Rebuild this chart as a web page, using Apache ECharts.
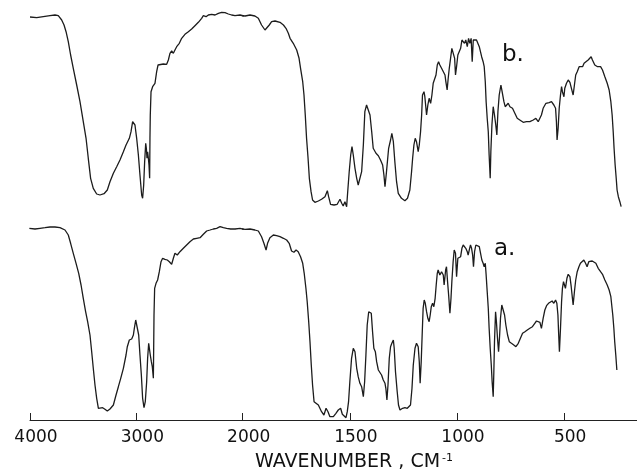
<!DOCTYPE html>
<html><head><meta charset="utf-8">
<script src="https://cdn.jsdelivr.net/npm/echarts@6/dist/echarts.min.js"></script>
<style>html,body{margin:0;padding:0;background:#fff}#c{width:637px;height:474px}</style>
</head><body><div id="c"></div>
<script>
// Spectrum b (upper trace): [wavenumber cm-1, relative transmittance units]
const traceB = [[4000,403],[3937,402.3],[3875,403.3],[3812,404.3],[3765,405],[3734,404.3],[3702,400],[3680,395],[3661,388.3],[3640,378.3],[3618,365],[3593,351.7],[3561,335],[3530,318.3],[3499,298.3],[3473,281.7],[3452,261.7],[3430,241.7],[3405,231.7],[3373,226],[3342,225],[3304,226.3],[3273,230],[3248,238.3],[3216,246.7],[3185,253.3],[3154,260],[3122,268.3],[3097,275],[3066,281.7],[3050,288.3],[3035,298.3],[3025,300],[3013,295],[2997,281.7],[2981,265],[2966,245],[2950,225],[2941,221.7],[2931,235],[2922,258.3],[2912,276.7],[2906,271.7],[2900,261.7],[2894,268.3],[2887,261.7],[2881,255],[2875,241.7],[2872,281.7],[2869,305],[2862,328.3],[2847,333.3],[2825,336.7],[2809,348.3],[2796,355],[2778,356.7],[2746,356],[2715,355.7],[2699,360],[2684,366.7],[2668,369],[2652,366.7],[2637,370],[2621,373.3],[2596,376.7],[2574,381.7],[2543,385.7],[2511,388.3],[2480,391],[2449,394.3],[2417,397.7],[2386,401.7],[2370,404.3],[2345,403.3],[2323,405],[2292,405.7],[2260,405],[2229,406.7],[2198,407.7],[2166,407.3],[2135,406],[2104,405],[2072,404.3],[2025,405],[1989,404],[1966,405],[1943,404],[1927,401.7],[1912,395],[1896,390],[1888,389],[1876,395],[1865,398.3],[1849,399],[1826,397.7],[1810,395],[1798,391.7],[1787,386.7],[1779,381.7],[1764,376.7],[1748,370],[1737,361.7],[1730,351.7],[1720,338.3],[1714,325],[1708,305],[1702,281.7],[1695,261.7],[1689,241.7],[1681,228.3],[1674,220],[1663,217.7],[1647,219],[1632,220.7],[1616,223.3],[1605,229.3],[1599,223.3],[1590,215.7],[1574,215],[1559,215.7],[1546,220.7],[1538,216.7],[1531,214],[1523,218.3],[1515,213.3],[1510,228.3],[1503,248.3],[1496,265],[1490,273.3],[1484,265],[1476,251.7],[1468,241.7],[1461,235],[1453,236.7],[1445,248.3],[1437,275],[1430,308.3],[1422,315],[1414,313.3],[1406,305],[1398,288.3],[1391,271.7],[1378,266.7],[1367,264.3],[1357,260],[1347,255],[1341,245],[1336,233.3],[1329,248.3],[1319,271.7],[1310,280],[1304,286.7],[1297,278.3],[1290,258.3],[1282,238.3],[1274,226.7],[1259,221.7],[1243,219.3],[1231,221.7],[1220,230],[1212,248.3],[1207,261.7],[1201,275],[1195,281.7],[1189,278.3],[1181,268.3],[1176,275],[1170,288.3],[1165,305],[1161,325],[1154,328.3],[1150,323.3],[1142,305],[1136,315],[1130,321.7],[1123,316.7],[1117,325],[1111,336.7],[1105,338.3],[1098,345],[1092,355],[1086,358.3],[1080,355],[1072,351.7],[1056,345],[1052,338.3],[1046,330],[1041,341.7],[1036,351.7],[1030,361.7],[1024,371.7],[1018,373.3],[1011,361.7],[1007,345],[1002,353.3],[996,365],[990,366.7],[983,371.7],[977,380],[971,381.7],[965,376.7],[959,380],[952,373.3],[946,381.7],[940,376.7],[934,381.7],[929,358.3],[924,380],[917,381.7],[909,380],[896,373.3],[885,363.3],[878,358.3],[873,353.3],[868,338.3],[864,318.3],[859,301.7],[854,288.3],[850,265],[845,241.7],[842,268.3],[837,295],[831,313.3],[825,305],[819,295],[814,285],[809,308.3],[803,325],[795,335],[788,326.7],[781,318.3],[775,313.3],[769,315],[761,316.7],[753,313.3],[741,311.7],[730,306.7],[719,301.7],[707,300],[691,297.7],[676,298.3],[660,298.3],[644,300],[632,301.7],[621,298.3],[613,300],[606,305],[598,311.7],[585,316.7],[570,317.3],[559,318.3],[548,315],[540,311.7],[536,298.3],[533,280],[528,291.7],[523,311.7],[517,325],[512,333.3],[508,328.3],[501,323.3],[497,331.7],[489,336.7],[481,340],[473,337.7],[466,331.7],[458,325],[452,335],[446,345],[439,348.3],[430,353.3],[422,355],[414,353.3],[407,356.7],[399,357.7],[388,360],[380,361.7],[374,363.3],[368,360],[357,355],[344,353.3],[330,353.3],[321,350],[310,343.3],[299,336.7],[290,330],[282,318.3],[276,305],[271,288.3],[267,271.7],[262,255],[257,241.7],[253,230],[247,223.3],[240,218.3],[234,213.3]];

// Spectrum a (lower trace)
const traceA = [[4006,191.7],[3953,191],[3906,191.7],[3859,192.3],[3812,193],[3765,193],[3718,192.3],[3671,190],[3640,185],[3618,176.7],[3593,166.7],[3567,156.7],[3542,146.7],[3520,135],[3499,121.7],[3477,108.3],[3458,98.3],[3436,85],[3420,68.3],[3405,51.7],[3389,35],[3373,21.7],[3357,11.7],[3342,11],[3317,12.3],[3295,10.7],[3273,9],[3248,11],[3216,15],[3191,25],[3169,33.3],[3147,41.7],[3122,51.7],[3097,65],[3085,73.3],[3066,80],[3044,81],[3028,85],[3019,91.7],[3006,100],[2997,101.7],[2988,98.3],[2978,85],[2966,65],[2953,45],[2941,21.7],[2928,12.3],[2916,18.3],[2903,38.3],[2894,61.7],[2884,76.7],[2878,78.3],[2869,65],[2859,58.3],[2850,53.3],[2840,41.7],[2837,71.7],[2834,105],[2828,131.7],[2815,136.7],[2800,140],[2784,148.3],[2768,158.3],[2753,161.7],[2731,160.7],[2709,160],[2690,158.3],[2668,155.7],[2652,161.7],[2637,166.7],[2615,165],[2590,168.3],[2558,171.7],[2527,175],[2496,178.3],[2464,181],[2433,181.7],[2401,182.3],[2370,185.7],[2339,189],[2307,190],[2276,191],[2245,191.7],[2213,193.3],[2182,192.3],[2151,191.7],[2113,191],[2072,191],[2025,191.7],[1989,190.7],[1966,191],[1943,190],[1927,189],[1912,183.3],[1901,176.7],[1891,170],[1884,176.7],[1873,182.3],[1857,185],[1842,184.3],[1826,183.3],[1810,181.7],[1795,180],[1783,176.7],[1772,169],[1761,167.7],[1751,170],[1741,168.3],[1730,163.3],[1720,156.7],[1713,146.7],[1705,131.7],[1699,118.3],[1692,98.3],[1686,78.3],[1680,55],[1674,35],[1667,18.3],[1658,16.7],[1647,15],[1639,13.3],[1632,8.3],[1621,5],[1611,11.7],[1602,8.3],[1593,3.3],[1577,3.3],[1565,6.7],[1554,10],[1543,11.7],[1535,5.7],[1526,5],[1518,2.3],[1512,8.3],[1506,18.3],[1500,38.3],[1492,61.7],[1484,71.7],[1476,68.3],[1468,51.7],[1461,43.3],[1453,36.7],[1445,33.3],[1437,23.3],[1431,38.3],[1425,65],[1419,95],[1412,108.3],[1406,110],[1400,106.7],[1394,88.3],[1388,71.7],[1381,68.3],[1375,58.3],[1367,50],[1360,48.3],[1352,45],[1344,40],[1336,36.7],[1332,31.7],[1327,20],[1322,35],[1316,61.7],[1310,73.3],[1304,76.7],[1297,80],[1293,71.7],[1287,48.3],[1279,28.3],[1273,15],[1266,10],[1254,11.7],[1243,12.3],[1232,11.7],[1223,11],[1217,15],[1210,31.7],[1204,55],[1196,71.7],[1189,76.7],[1181,73.3],[1176,58.3],[1172,36.7],[1167,58.3],[1162,88.3],[1158,111.7],[1153,120],[1148,116.7],[1142,108.3],[1136,101.7],[1130,98.3],[1125,105],[1120,113.3],[1114,116.7],[1108,113.3],[1102,121.7],[1097,135],[1092,146.7],[1088,150],[1080,145],[1072,148.3],[1064,145],[1060,135],[1053,150],[1049,153.3],[1044,138.3],[1039,125],[1033,106.7],[1028,121.7],[1024,138.3],[1018,158.3],[1013,170],[1007,166.7],[1002,143.3],[996,161.7],[990,160],[983,163.3],[977,171.7],[971,175],[965,173.3],[959,171.7],[952,168.3],[948,165],[941,171.7],[937,175],[932,171.7],[927,165],[923,153.3],[918,168.3],[912,175],[904,175.7],[896,173.3],[890,166.7],[884,160],[878,156.7],[873,153.3],[868,156.7],[864,145],[859,128.3],[854,111.7],[850,91.7],[845,71.7],[840,55],[836,38.3],[831,23.3],[828,48.3],[825,78.3],[820,108.3],[816,98.3],[811,81.7],[806,68.3],[801,85],[797,101.7],[791,115],[784,113.3],[778,105],[772,95],[764,85],[756,78.3],[746,76.7],[735,75],[725,73.3],[714,76.7],[704,81.7],[694,86.7],[683,88.3],[672,90],[660,91.7],[648,93.3],[637,96.7],[629,99],[621,101],[613,97.7],[606,91.7],[598,101.7],[590,110],[582,114.3],[573,116.7],[564,117.7],[556,119],[548,116.7],[540,120],[534,116.7],[529,105],[526,88.3],[522,68.3],[517,91.7],[512,118.3],[508,131.7],[503,138.3],[498,136.7],[494,131.7],[487,141.7],[481,145.7],[473,143.3],[467,133.3],[463,125],[458,115],[452,128.3],[446,140],[439,148.3],[431,153.3],[424,156.7],[416,158.3],[408,160],[400,156.7],[393,153.3],[385,158.3],[377,160],[369,159],[362,160],[352,156.7],[341,151.7],[330,148.3],[321,145.7],[310,140],[299,135],[290,130],[282,123.3],[278,115],[273,105],[268,91.7],[264,78.3],[259,65],[254,50]];

const highTicks = [4000, 3000, 2000];
const lowTicks = [2000, 1500, 1000, 500];
const lowLabels = [1500, 1000, 500];
const axisTitle = 'WAVENUMBER , CM';
const axisTitleSup = '-1';
const traceLabels = ['b.', 'a.'];

const BREAK = 2000;
function highPart(tr) { // wavenumbers >= 2000, plus the first point past it (clipped by grid)
  const out = [];
  for (const p of tr) { out.push(p); if (p[0] < BREAK) break; }
  return out;
}
function lowPart(tr) {
  const i = tr.findIndex(p => p[0] < BREAK);
  return tr.slice(Math.max(0, i - 1));
}

const chart = echarts.init(document.getElementById('c'), null, {renderer: 'canvas'});
const FONT = 'DejaVu Sans';
const lineStyle = {color: '#1c1c1c', width: 1.3};
const axisCommon = {
  type: 'value', inverse: true,
  axisLine: {show: true, lineStyle: {color: '#222', width: 1}},
  splitLine: {show: false},
};
const tickCommon = {show: true, inside: true, length: 7, lineStyle: {color: '#222'}};
const labelCommon = {color: '#111', fontFamily: FONT, fontSize: 17, margin: 9, padding: [0, 0, 0, 12]};

chart.setOption({
  animation: false,
  backgroundColor: '#fff',
  grid: [
    {left: 30, right: 394.3, top: 10, bottom: 54},
    {left: 242.7, right: 0, top: 10, bottom: 54}
  ],
  xAxis: [
    Object.assign({}, axisCommon, {gridIndex: 0, min: 2000, max: 4000, interval: 1000,
      axisTick: tickCommon,
      axisLabel: Object.assign({}, labelCommon, {formatter: v => highTicks.includes(v) ? String(v) : ''})}),
    Object.assign({}, axisCommon, {gridIndex: 1, min: 160, max: 2000,
      axisTick: Object.assign({}, tickCommon, {customValues: lowTicks}),
      axisLabel: Object.assign({}, labelCommon, {customValues: lowLabels, formatter: v => String(v)})})
  ],
  yAxis: [
    {type: 'value', gridIndex: 0, min: 0, max: 410, show: false},
    {type: 'value', gridIndex: 1, min: 0, max: 410, show: false}
  ],
  series: [
    {type: 'line', xAxisIndex: 0, yAxisIndex: 0, data: highPart(traceB), showSymbol: false, symbol: 'none', lineStyle, clip: true},
    {type: 'line', xAxisIndex: 1, yAxisIndex: 1, data: lowPart(traceB), showSymbol: false, symbol: 'none', lineStyle, clip: true},
    {type: 'line', xAxisIndex: 0, yAxisIndex: 0, data: highPart(traceA), showSymbol: false, symbol: 'none', lineStyle, clip: true},
    {type: 'line', xAxisIndex: 1, yAxisIndex: 1, data: lowPart(traceA), showSymbol: false, symbol: 'none', lineStyle, clip: true}
  ],
  title: {
    text: '{a|' + axisTitle + '}{s|' + axisTitleSup + '}',
    left: 255, top: 453, padding: 0,
    textStyle: {fontWeight: 'normal', rich: {
      a: {fontFamily: FONT, fontSize: 19, fontWeight: 'normal', color: '#111'},
      s: {fontFamily: FONT, fontSize: 11, fontWeight: 'normal', color: '#111', verticalAlign: 'top', padding: [0, 0, 8, 2]}
    }}
  },
  graphic: [
    {type: 'text', left: 502, top: 44, style: {text: traceLabels[0], font: '23px "DejaVu Sans"', fill: '#111'}},
    {type: 'text', left: 494, top: 238, style: {text: traceLabels[1], font: '23px "DejaVu Sans"', fill: '#111'}}
  ]
});
</script></body></html>
